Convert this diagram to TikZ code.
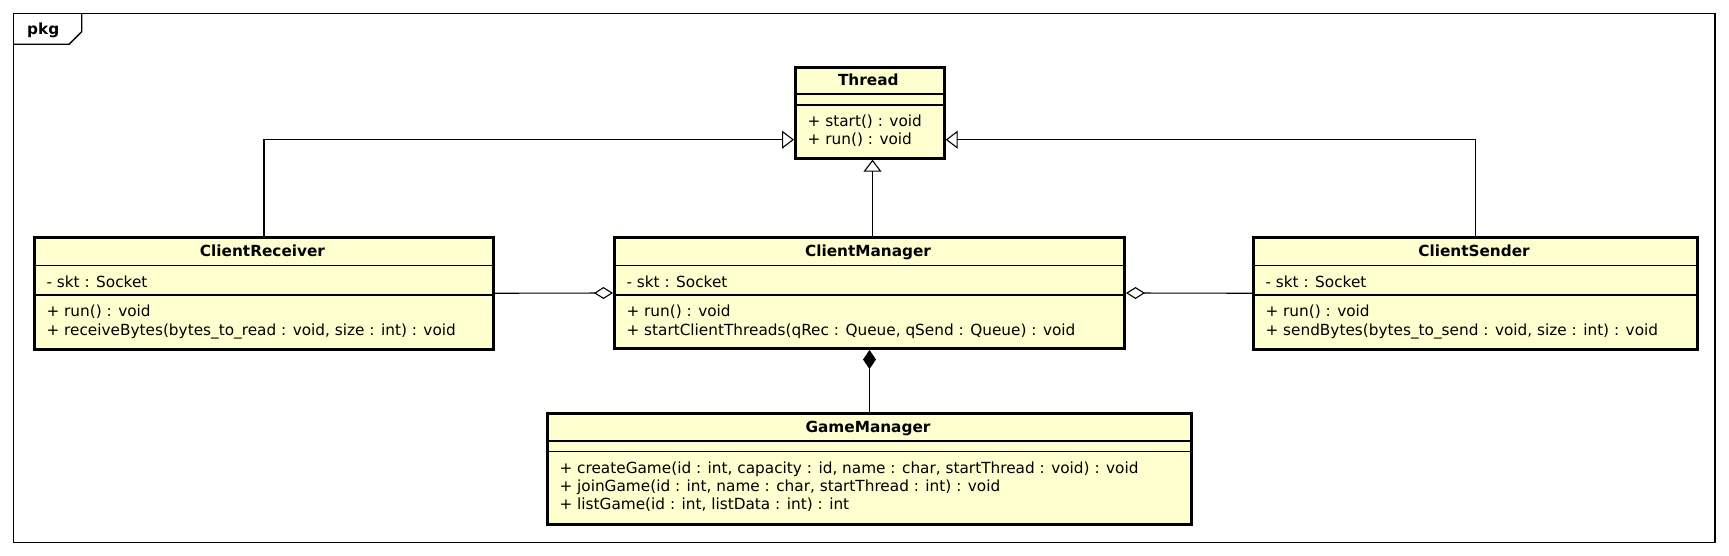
\documentclass[tikz,border=0pt]{standalone}
\usepackage{fontspec}
\setmainfont{DejaVu Sans}
\usetikzlibrary{arrows.meta}
\definecolor{classfill}{HTML}{FEFECE}
\begin{document}
\begin{tikzpicture}[x=1pt,y=-1pt,
  txt/.style={inner sep=0pt, font=\fontsize{15.3pt}{18pt}\selectfont},
  mem/.style={txt, anchor=base west},
  ttl/.style={txt, anchor=base, font=\fontsize{15.3pt}{18pt}\selectfont\bfseries},
  classbox/.style={draw=black, line width=3pt, fill=classfill, anchor=north west, inner sep=0pt, minimum width=#1},
  sepline/.style={draw=black, line width=1.2pt},
  conn/.style={draw=black, line width=1.1pt},
  gen/.style={conn, -{Triangle[open, length=12pt, width=18pt, line width=1.1pt]}},
  agg/.style={conn, -{Diamond[open, length=19pt, width=12pt, line width=1.1pt]}},
  comp/.style={conn, -{Diamond[length=19pt, width=13pt]}}
]
\useasboundingbox (0,0) rectangle (1729,556);
% package frame
\draw[line width=1.4pt] (13.3,13.3) rectangle (1715,542.3);
\draw[line width=1.4pt] (13.3,44.3) -- (69,44.3) -- (81.7,31.6) -- (81.7,13.3);
\node[ttl, anchor=base west] (pkglabel) at (27,34.3) {pkg};

% Thread
\node[classbox=148.7, minimum height=91] (th) at (794,65.7) {};
\draw[sepline] (794,94) -- (942.7,94);
\draw[sepline] (794,105) -- (942.7,105);
\node[ttl] (thT) at (868.3,85.7) {Thread};
\node[mem] (thM1) at (807.5,126.7) {+ start() : void};
\node[mem] (thM2) at (807.5,144.5) {+ run() : void};

% ClientReceiver
\node[classbox=459, minimum height=111.5] (cr) at (33,236) {};
\draw[sepline] (33,265.7) -- (492,265.7);
\draw[sepline] (33,295) -- (492,295);
\node[ttl] (crT) at (262.5,256.7) {ClientReceiver};
\node[mem] (crA) at (46.3,287.3) {- skt : Socket};
\node[mem] (crM1) at (46.3,316.7) {+ run() : void};
\node[mem] (crM2) at (46.3,335) {+ receiveBytes(bytes\_to\_read : void, size : int) : void};

% ClientManager
\node[classbox=510, minimum height=111] (cm) at (613,236) {};
\draw[sepline] (613,265.7) -- (1123,265.7);
\draw[sepline] (613,295) -- (1123,295);
\node[ttl] (cmT) at (868,256.7) {ClientManager};
\node[mem] (cmA) at (626.3,287.3) {- skt : Socket};
\node[mem] (cmM1) at (626.3,316.7) {+ run() : void};
\node[mem] (cmM2) at (626.3,335) {+ startClientThreads(qRec : Queue, qSend : Queue) : void};

% ClientSender
\node[classbox=444, minimum height=111.5] (cs) at (1252,236) {};
\draw[sepline] (1252,265.7) -- (1696,265.7);
\draw[sepline] (1252,295) -- (1696,295);
\node[ttl] (csT) at (1474,256.7) {ClientSender};
\node[mem] (csA) at (1265.3,287.3) {- skt : Socket};
\node[mem] (csM1) at (1265.3,316.7) {+ run() : void};
\node[mem] (csM2) at (1265.3,335) {+ sendBytes(bytes\_to\_send : void, size : int) : void};

% GameManager
\node[classbox=644, minimum height=110.5] (gm) at (546,412) {};
\draw[sepline] (546,441) -- (1190,441);
\draw[sepline] (546,451.5) -- (1190,451.5);
\node[ttl] (gmT) at (868,432.7) {GameManager};
\node[mem] (gmM1) at (559.3,473) {+ createGame(id : int, capacity : id, name : char, startThread : void) : void};
\node[mem] (gmM2) at (559.3,491.3) {+ joinGame(id : int, name : char, startThread : int) : void};
\node[mem] (gmM3) at (559.3,509.6) {+ listGame(id : int, listData : int) : int};

% connectors
\draw[gen] (cr.north) |- ([yshift=-27pt]th.west);
\draw[gen] (cs.north) |- ([yshift=-27pt]th.east);
\draw[gen] ([xshift=3pt]cm.north) -- ([xshift=3pt]cm.north |- th.south);
\draw[agg] (cr.east) -- (cm.west);
\draw[agg] (cs.west) -- (cm.east);
\draw[comp] (gm.north) -- (cm.south);
\end{tikzpicture}
\end{document}
